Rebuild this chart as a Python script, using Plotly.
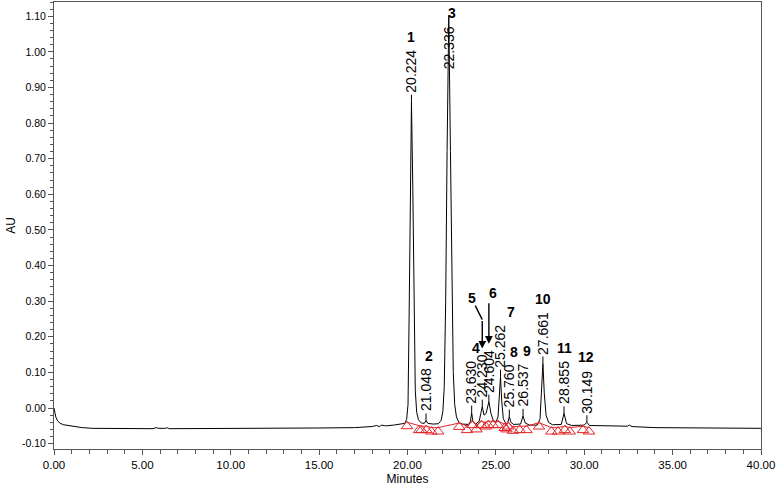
import plotly.graph_objects as go

# ---------------- data ----------------
time_min = [0.00, 0.04, 0.10, 0.20, 0.35, 0.55, 0.80, 1.00, 1.20, 1.60, 2.20, 3.50,
            5.60, 5.78, 5.92, 6.30, 6.40, 6.52, 9.00, 12.00, 15.00, 17.00, 18.00,
            18.25, 18.40, 18.55, 18.75, 19.20, 19.60, 19.85, 19.95, 20.03, 20.09,
            20.15, 20.224, 20.30, 20.37, 20.44, 20.52, 20.62, 20.78, 20.95, 21.048,
            21.15, 21.45, 21.75, 21.90, 22.00, 22.08, 22.16, 22.24, 22.336, 22.43,
            22.51, 22.59, 22.67, 22.77, 22.90, 23.10, 23.45, 23.56, 23.630, 23.70,
            23.85, 24.05, 24.15, 24.230, 24.33, 24.45, 24.604, 24.72, 24.85, 25.00,
            25.12, 25.20, 25.262, 25.33, 25.42, 25.58, 25.68, 25.760, 25.85, 26.00,
            26.40, 26.537, 26.66, 26.90, 27.35, 27.50, 27.58, 27.661, 27.74, 27.84,
            27.98, 28.20, 28.70, 28.855, 29.00, 29.30, 30.00, 30.149, 30.30, 31.50,
            32.45, 32.55, 32.70, 34.00, 36.00, 38.00, 40.00]
signal_au = [0.000, -0.012, -0.025, -0.036, -0.043, -0.047, -0.049, -0.049, -0.052, -0.055,
             -0.057, -0.058, -0.058, -0.055, -0.057, -0.057, -0.055, -0.058, -0.058, -0.057,
             -0.056, -0.055, -0.052, -0.049, -0.052, -0.048, -0.050, -0.048, -0.046, -0.043,
             -0.032, 0.010, 0.250, 0.620, 0.860, 0.620, 0.250, 0.050, -0.012, -0.033,
             -0.042, -0.043, -0.035, -0.043, -0.045, -0.044, -0.035, -0.010, 0.060, 0.300,
             0.720, 1.102, 0.720, 0.320, 0.100, 0.010, -0.025, -0.040, -0.045, -0.046,
             -0.038, -0.013, -0.038, -0.045, -0.038, -0.015, 0.004, -0.020, -0.015, 0.018,
             -0.015, -0.035, -0.040, -0.025, 0.030, 0.088, 0.020, -0.030, -0.045, -0.040,
             -0.024, -0.040, -0.046, -0.045, -0.022, -0.042, -0.048, -0.048, -0.030, 0.040,
             0.125, 0.040, -0.020, -0.040, -0.047, -0.046, -0.015, -0.044, -0.049, -0.048,
             -0.040, -0.049, -0.051, -0.051, -0.048, -0.052, -0.055, -0.056, -0.057, -0.057]

peak_numbers = ["1", "2", "3", "4", "5", "6", "7", "8", "9", "10", "11", "12"]
peak_times = [20.224, 21.048, 22.336, 23.630, 24.230, 24.604, 25.262, 25.760,
              26.537, 27.661, 28.855, 30.149]
peak_heights = [0.860, -0.035, 1.102, -0.013, 0.004, 0.018, 0.088, -0.024,
                -0.022, 0.125, -0.015, -0.040]

# integration start/stop marks (red triangles)
mark_t = [19.97, 20.65, 20.78, 21.07, 21.35, 21.73, 22.92, 23.37, 23.67, 23.90,
          24.18, 24.43, 24.56, 24.84, 25.12, 25.50, 25.60, 25.69, 25.97, 26.35,
          26.73, 27.44, 28.14, 28.52, 28.90, 29.18, 29.93, 30.27]
mark_au = [-0.051, -0.062, -0.062, -0.062, -0.066, -0.066, -0.053, -0.062, -0.048, -0.060,
           -0.048, -0.052, -0.048, -0.048, -0.048, -0.056, -0.060, -0.052, -0.064, -0.062,
           -0.062, -0.052, -0.066, -0.066, -0.062, -0.066, -0.062, -0.066]

x_tick_vals = [0, 5, 10, 15, 20, 25, 30, 35, 40]
x_tick_text = ["0.00", "5.00", "10.00", "15.00", "20.00", "25.00", "30.00", "35.00", "40.00"]
y_tick_vals = [-0.10, 0.00, 0.10, 0.20, 0.30, 0.40, 0.50, 0.60, 0.70, 0.80, 0.90, 1.00, 1.10]
y_tick_text = ["-0.10", "0.00", "0.10", "0.20", "0.30", "0.40", "0.50", "0.60", "0.70",
               "0.80", "0.90", "1.00", "1.10"]

# ---------------- style / layout constants ----------------
W, H = 777, 488
M_L, M_R, M_T, M_B = 54, 16, 2, 39
X_RANGE = [0, 40]
Y_RANGE = [-0.115, 1.14]
PX = (H - M_T - M_B) / (Y_RANGE[1] - Y_RANGE[0])   # pixels per AU
PXX = (W - M_L - M_R) / (X_RANGE[1] - X_RANGE[0])  # pixels per minute
FONT = "Liberation Sans, Arial, Helvetica, sans-serif"
LABEL_SIZE = 14
LABEL_LEN = 46      # px length of a rotated retention-time label
TICK_GAP = 8        # px from apex to label
LABEL_TOP_LIMIT = 1.078
num_xshift = {"1": 0, "2": 3, "3": 3, "4": 4, "7": 10, "8": 5, "9": 4,
              "10": 0, "11": 0, "12": -1, "5": -10, "6": 4}
arrow_peaks = {"5", "6"}
RED = "#e3262b"

fig = go.Figure()

fig.add_trace(go.Scatter(x=time_min, y=signal_au, mode="lines",
                         line=dict(color="black", width=1), hoverinfo="skip"))

# baseline segments + triangles
fig.add_trace(go.Scatter(x=mark_t, y=[v + 0.011 for v in mark_au], mode="lines",
                         line=dict(color=RED, width=1), hoverinfo="skip"))
fig.add_trace(go.Scatter(x=mark_t, y=mark_au, mode="markers",
                         marker=dict(symbol="triangle-up-open", size=10, color=RED,
                                     line=dict(width=1, color=RED)),
                         hoverinfo="skip"))

annotations = []
tick_x, tick_y = [], []
arrow_x, arrow_y = [], []
for num, t, h in zip(peak_numbers, peak_times, peak_heights):
    base = h + TICK_GAP / PX
    top = base + LABEL_LEN / PX
    if top > LABEL_TOP_LIMIT:
        top = LABEL_TOP_LIMIT
        base = top - LABEL_LEN / PX
    else:
        tick_x += [t, t, None]
        tick_y += [h, base - 1 / PX, None]
    annotations.append(dict(x=t, y=base, xref="x", yref="y", text=f"{t:.3f}",
                            textangle=-90, showarrow=False, xanchor="center",
                            yanchor="bottom", borderpad=0,
                            font=dict(family=FONT, size=LABEL_SIZE, color="black")))
    if num in arrow_peaks:
        tip = top + 4 / PX
        if num == "5":
            bend = tip + 29 / PX
            arrow_x += [t - 7 / PXX, t, None]
            arrow_y += [tip + 43 / PX, bend, None]
            tail = bend
        else:
            tail = tip + 42 / PX
        annotations.append(dict(x=t, y=tip, xref="x", yref="y", ax=t, ay=tail,
                                axref="x", ayref="y", text="", showarrow=True,
                                arrowhead=2, arrowsize=1.1, arrowwidth=1.4,
                                arrowcolor="black", standoff=0))
        annotations.append(dict(x=t, y=tip, xref="x", yref="y", yshift=42,
                                xshift=num_xshift[num], text=f"<b>{num}</b>",
                                showarrow=False, xanchor="center", yanchor="bottom",
                                borderpad=0,
                                font=dict(family=FONT, size=14, color="black")))
    else:
        annotations.append(dict(x=t, y=top, xref="x", yref="y", yshift=2,
                                xshift=num_xshift[num], text=f"<b>{num}</b>",
                                showarrow=False, xanchor="center", yanchor="bottom",
                                borderpad=0,
                                font=dict(family=FONT, size=14, color="black")))

fig.add_trace(go.Scatter(x=tick_x, y=tick_y, mode="lines",
                         line=dict(color="black", width=1), hoverinfo="skip"))
fig.add_trace(go.Scatter(x=arrow_x, y=arrow_y, mode="lines",
                         line=dict(color="black", width=1.4), hoverinfo="skip"))

axis_common = dict(showgrid=False, zeroline=False, showline=True, mirror=True,
                   linecolor="#555555", linewidth=1, ticks="outside",
                   tickcolor="#555555", automargin=False)

fig.update_layout(
    width=W, height=H,
    margin=dict(l=M_L, r=M_R, t=M_T, b=M_B),
    paper_bgcolor="white", plot_bgcolor="white",
    showlegend=False,
    font=dict(family=FONT, color="black"),
    annotations=annotations,
    xaxis=dict(range=X_RANGE, tickmode="array", tickvals=x_tick_vals,
               ticktext=x_tick_text, ticklen=5,
               tickfont=dict(size=11.5, family=FONT),
               minor=dict(tickmode="linear", tick0=0, dtick=1, ticklen=4,
                          ticks="outside", tickcolor="#555555"),
               title=dict(text="Minutes", font=dict(size=12, family=FONT), standoff=4),
               **axis_common),
    yaxis=dict(range=Y_RANGE, tickmode="array", tickvals=y_tick_vals,
               ticktext=y_tick_text, ticklen=5,
               tickfont=dict(size=10.5, family=FONT),
               minor=dict(tickmode="linear", tick0=0, dtick=0.02, ticklen=3,
                          ticks="outside", tickcolor="#555555"),
               title=dict(text="AU", font=dict(size=12, family=FONT), standoff=3),
               **axis_common),
)

fig.write_html("out.html", config={"displayModeBar": False},
               post_script="document.body.style.margin='0';document.body.style.padding='0';")
